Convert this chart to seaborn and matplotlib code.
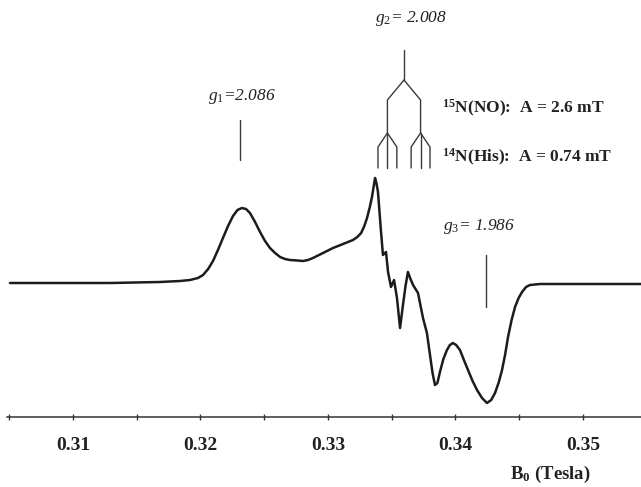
import pandas as pd
import seaborn as sns
import matplotlib.pyplot as plt

# EPR derivative spectrum of the nitrosyl complex (field in Tesla, signal in arb. units)
field_T = [0.30506, 0.30898, 0.31290, 0.31682, 0.31840, 0.31918, 0.31980, 0.32020,
           0.32060, 0.32098, 0.32137, 0.32176, 0.32216, 0.32255, 0.32290, 0.32325,
           0.32357, 0.32388, 0.32428, 0.32467, 0.32506, 0.32545, 0.32585, 0.32624,
           0.32663, 0.32702, 0.32760, 0.32804, 0.32843, 0.32882, 0.32961, 0.33039,
           0.33118, 0.33196, 0.33230, 0.33260, 0.33285, 0.33306, 0.33328, 0.33345,
           0.33360, 0.33369, 0.33380, 0.33392, 0.33416, 0.33431, 0.33455, 0.33471,
           0.33494, 0.33518, 0.33541, 0.33565, 0.33588, 0.33608, 0.33627, 0.33647,
           0.33667, 0.33706, 0.33745, 0.33776, 0.33800, 0.33820, 0.33839, 0.33858,
           0.33878, 0.33905, 0.33933, 0.33956, 0.33980, 0.34005, 0.34035, 0.34066,
           0.34098, 0.34134, 0.34169, 0.34208, 0.34247, 0.34280, 0.34310, 0.34340,
           0.34365, 0.34390, 0.34412, 0.34440, 0.34467, 0.34495, 0.34522, 0.34553,
           0.34584, 0.34663, 0.35455]
signal = [0, 0, 0, 1, 2, 3, 5, 8,
          14, 22, 33, 45, 57, 67, 73, 75,
          74, 70, 61, 51, 42, 35, 30, 26,
          24, 23, 22.5, 22, 23, 25, 30, 35,
          39, 43, 46, 50, 57, 65, 76, 86,
          98, 105, 100, 91, 51, 28, 31, 11,
          -4, 3, -15, -45, -22, -3, 11, 4,
          -2, -10, -35, -50, -72, -90, -102, -100,
          -89, -76, -67, -62, -60, -62, -67, -77,
          -87, -98, -107, -115, -120, -117, -110, -99,
          -87, -71, -54, -37, -24, -15, -9, -4,
          -2, -1, -1]

tick_values = [0.31, 0.32, 0.33, 0.34, 0.35]
tick_labels = ["0.31", "0.32", "0.33", "0.34", "0.35"]
minor_ticks = [0.305, 0.315, 0.325, 0.335, 0.345]

g_labels = ["2.086", "2.008", "1.986"]
g_field = [0.32310, 0.33596, 0.34239]   # marker positions, T
a_15N = 0.0026    # T, 15N(NO) hyperfine
a_14N = 0.00074   # T, 14N(His) hyperfine

sns.set_theme(style="white")
plt.rcParams["font.family"] = ["Liberation Serif", "DejaVu Serif"]
plt.rcParams["mathtext.fontset"] = "custom"
plt.rcParams["mathtext.rm"] = "Liberation Serif"
plt.rcParams["mathtext.it"] = "Liberation Serif:italic"
plt.rcParams["mathtext.bf"] = "Liberation Serif:bold"

W, H = 641, 487
fig = plt.figure(figsize=(W / 100, H / 100), dpi=100)
ax = fig.add_axes([0, (H - 417) / H, 1, 417 / H])

df = pd.DataFrame({"field": field_T, "signal": signal})
sns.lineplot(data=df, x="field", y="signal", estimator=None, sort=False,
             color="#1c1c1c", lw=1.8, ax=ax)
for ln in ax.lines:
    ln.set_solid_joinstyle("round")
    ln.set_solid_capstyle("round")

ax.set_xlim(0.304275, 0.354549)
ax.set_ylim(-134, 283)

# only the field axis is shown
for side in ["left", "right", "top"]:
    ax.spines[side].set_visible(False)
ax.spines["bottom"].set_color("#333333")
ax.spines["bottom"].set_linewidth(1.1)
ax.spines["bottom"].set_bounds(0.3048, 0.354549)
ax.set_yticks([])
ax.set_xticks(tick_values)
ax.set_xticklabels(tick_labels, fontsize=14, fontweight="bold", color="#222222")
ax.set_xticks(minor_ticks, minor=True)
ax.tick_params(axis="x", which="major", direction="inout", length=5, width=1,
               color="#333333", pad=12, bottom=True)
ax.tick_params(axis="x", which="minor", direction="inout", length=4, width=1,
               color="#333333", bottom=True)
ax.set_xlabel("")
ax.set_ylabel("")

ax.text(0.34741, -196, r"B$_{\mathbf{0}}$ (Tesla)", fontsize=13.5, fontweight="bold",
        ha="center", va="baseline", color="#222222", clip_on=False)

mk = dict(color="#3a3a3a", lw=1.0)
# g1 and g3 position markers
ax.plot([g_field[0], g_field[0]], [123, 163], **mk)
ax.plot([g_field[2], g_field[2]], [-24, 28], **mk)

# g2 splitting tree: 15N doublet, each split into a 14N triplet
c = g_field[1]
ax.plot([c, c], [203, 233], **mk)
for s in (-1, 1):
    x15 = c + s * a_15N / 2
    ax.plot([c, x15, x15], [203, 183, 150], **mk)
    ax.plot([x15, x15], [150, 115], **mk)
    for t in (-1, 1):
        x14 = x15 + t * a_14N
        ax.plot([x15, x14, x14], [150, 136, 115], **mk)

gtxt = dict(fontsize=12.5, style="italic", color="#222222", va="baseline")
ax.text(0.32059, 183, r"$g_{\mathit{1}}$=" + g_labels[0], ha="left", **gtxt)
ax.text(0.33651, 261, r"$g_{\mathit{2}}$= " + g_labels[1], ha="center", **gtxt)
ax.text(0.33902, 53, r"$g_{\mathit{3}}$= " + g_labels[2], ha="left", **gtxt)

ntxt = dict(fontsize=12.5, fontweight="bold", color="#222222", va="baseline", ha="left")
ax.text(0.33894, 170, r"$^{\mathbf{15}}$N(NO):  A = 2.6 mT", **ntxt)
ax.text(0.33894, 121, r"$^{\mathbf{14}}$N(His):  A = 0.74 mT", **ntxt)

fig.savefig("out.png", dpi=100, facecolor="white")
